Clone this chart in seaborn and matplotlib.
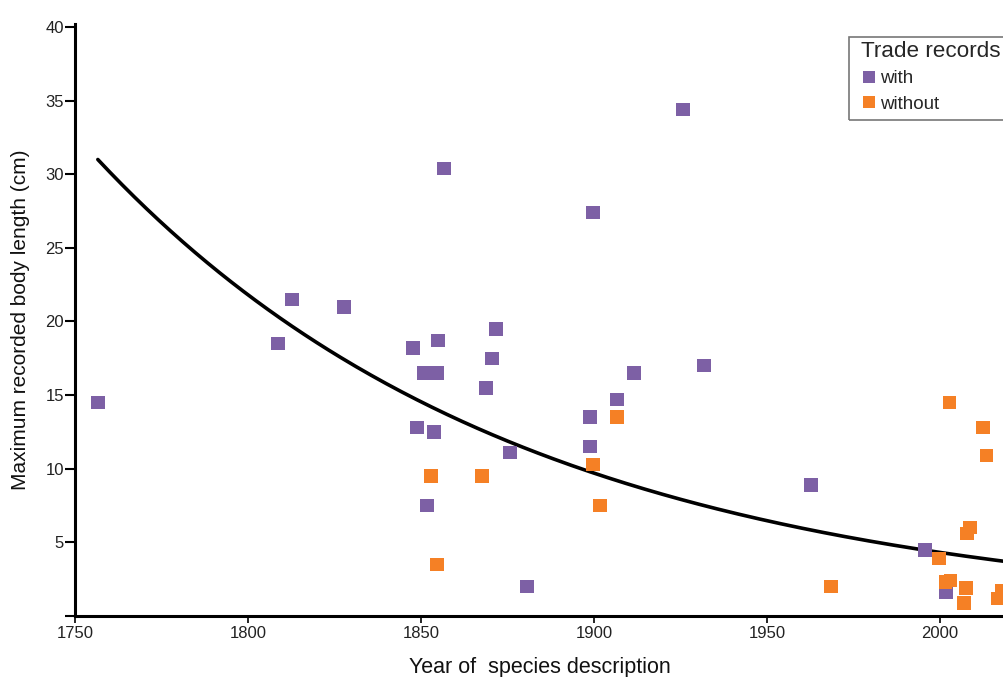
import numpy as np
import pandas as pd
import matplotlib
matplotlib.use("Agg")
import matplotlib.pyplot as plt
from matplotlib.patches import Rectangle
import seaborn as sns

# --- data ---
with_years = [1756.6, 1808.7, 1812.7, 1827.7, 1847.7, 1848.8, 1850.8, 1854.6, 1854.9,
              1853.8, 1851.7, 1856.6, 1871.7, 1870.5, 1868.8, 1875.7, 1880.6, 1898.8,
              1898.8, 1899.7, 1906.6, 1911.6, 1925.7, 1931.8, 1962.7, 1995.7, 2001.7]
with_length = [14.5, 18.5, 21.5, 21.0, 18.2, 12.8, 16.5, 16.5, 18.7,
               12.5, 7.5, 30.4, 19.5, 17.5, 15.5, 11.1, 2.0, 13.5,
               11.5, 27.4, 14.7, 16.5, 34.4, 17.0, 8.9, 4.5, 1.6]

without_years = [1852.9, 1854.6, 1867.6, 1899.7, 1901.7, 1906.6, 1968.5, 1999.7,
                 2001.6, 2002.8, 2003.0, 2007.5, 2007.0, 2007.8, 2008.6, 2012.5,
                 2013.5, 2016.6, 2017.8]
without_length = [9.5, 3.5, 9.5, 10.3, 7.5, 13.5, 2.0, 3.9,
                  2.3, 14.5, 2.4, 1.9, 0.9, 5.6, 6.0, 12.8,
                  10.9, 1.2, 1.7]

# fitted exponential decay curve (model parameters)
fit_a = 31.0        # length at fit_t0
fit_t0 = 1756.6
fit_b = 0.0081      # decay rate per year
fit_end = 2019.0

x_ticks = [1750, 1800, 1850, 1900, 1950, 2000]
y_ticks = [0, 5, 10, 15, 20, 25, 30, 35, 40]
y_ticklabels = ["", "5", "10", "15", "20", "25", "30", "35", "40"]

colors = {"with": "#7D60A5", "without": "#F58025"}

df = pd.DataFrame({
    "year": with_years + without_years,
    "length": with_length + without_length,
    "trade": ["with"] * len(with_years) + ["without"] * len(without_years),
})

curve_t = np.linspace(fit_t0, fit_end, 300)
curve_df = pd.DataFrame({"year": curve_t,
                         "length": fit_a * np.exp(-fit_b * (curve_t - fit_t0))})

sns.set_style("white")
plt.rcParams["font.family"] = ["Liberation Sans", "DejaVu Sans"]

fig = plt.figure(figsize=(10.04, 6.77), dpi=100)
ax = fig.add_axes([0.0747, 0.0901, 0.9253, 0.8744])

sns.lineplot(data=curve_df, x="year", y="length", color="black", lw=2.6,
             ax=ax, zorder=1)
sns.scatterplot(data=df, x="year", y="length", hue="trade", palette=colors,
                marker="s", s=95, linewidth=0, ax=ax, zorder=2, legend=False)

ax.set_xlim(1750, 2018.5)
ax.set_ylim(0, 40.2)

ax.set_xticks(x_ticks)
ax.set_xticklabels([str(t) for t in x_ticks], fontsize=12)
ax.set_yticks(y_ticks)
ax.set_yticklabels(y_ticklabels, fontsize=12)
ax.tick_params(axis="y", direction="out", length=7, width=1.5, color="black",
               left=True, pad=1, labelcolor="#222222")
ax.tick_params(axis="x", direction="out", length=5, width=1.2, color="black",
               bottom=True, pad=2, labelcolor="#222222")

for side in ["top", "right"]:
    ax.spines[side].set_visible(False)
for side in ["left", "bottom"]:
    ax.spines[side].set_color("black")
    ax.spines[side].set_linewidth(2.2)

ax.set_xlabel("Year of  species description", fontsize=15.5, labelpad=12,
              color="#111111")
ax.set_ylabel("Maximum recorded body length (cm)", fontsize=15, labelpad=11,
              color="#111111")

handles = [plt.Line2D([], [], marker="s", linestyle="none", markersize=8,
                      markerfacecolor=colors[k], markeredgewidth=0, label=k)
           for k in ["with", "without"]]
leg = fig.legend(handles=handles, title="Trade records", loc="upper left",
                 bbox_to_anchor=(855 / 1004, 1 - 35 / 677), frameon=False,
                 fontsize=13.5, title_fontsize=16.2, handletextpad=0.15,
                 handlelength=0.9, borderpad=0.3, labelspacing=0.45,
                 borderaxespad=0)
leg._legend_box.align = "left"

# legend frame (extends beyond the right figure edge, as in the reference)
fig.patches.append(Rectangle((849 / 1004, 1 - 120 / 677), 180 / 1004, 83 / 677,
                             transform=fig.transFigure, fill=False,
                             edgecolor="#777777", linewidth=1.2, zorder=5))

fig.savefig("out.png", dpi=100, facecolor="white")
